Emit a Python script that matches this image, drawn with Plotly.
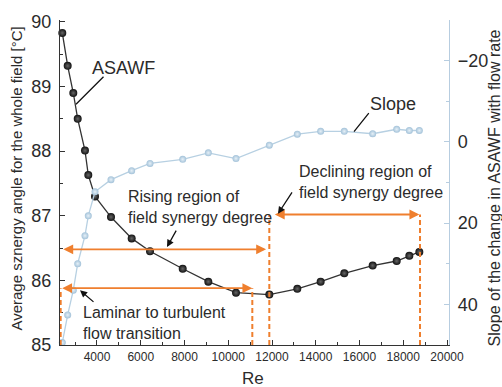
import plotly.graph_objects as go

# ---------------- data ----------------
re_vals = [2414, 2660, 2917, 3118, 3451, 3602, 3909, 4640, 5585, 6423, 7918,
           9089, 10354, 11877, 13157, 14224, 15305, 16602, 17700, 18278, 18735]
asawf = [89.83, 89.32, 88.90, 88.50, 88.01, 87.63, 87.30, 86.98, 86.65, 86.45, 86.18,
         85.98, 85.81, 85.78, 85.87, 85.98, 86.11, 86.23, 86.30, 86.38, 86.44]
slope = [49.4, 42.6, 36.5, 30.0, 23.1, 18.2, 12.3, 9.3, 7.1, 5.3, 4.3,
         2.7, 4.1, 0.8, -1.9, -2.6, -2.6, -2.0, -3.1, -2.8, -2.8]

x_ticks = [4000, 6000, 8000, 10000, 12000, 14000, 16000, 18000, 20000]
x_ticktext = [str(v) for v in x_ticks]
y_ticks = [85, 86, 87, 88, 89, 90]
y2_ticks = [-20, 0, 20, 40]
y2_ticktext = ["\u221220", "0", "20", "40"]

# region markers (Re, ASAWF-scale level)
lam_start, lam_end, lam_level = 2340, 11100, 85.88
rise_start, rise_end, rise_level = 2390, 11730, 86.48
dec_start, dec_end, dec_level = 12060, 18735, 87.02
dash_lines = [(2340, lam_level), (11100, lam_level), (11877, dec_level), (18766, dec_level)]

ORANGE = "#ef7f2e"
DARK = "#2b2b2b"
FONT = "Liberation Sans, Arial, sans-serif"

W, H = 502, 387
L, R, T, B = 60, 53, 13, 42
PW, PH = W - L - R, H - T - B


def px(x):
    return (x - L) / PW


def py(y):
    return (H - B - y) / PH


fig = go.Figure()

fig.add_trace(go.Scatter(
    x=re_vals, y=slope, yaxis="y2", mode="lines+markers", cliponaxis=False,
    line=dict(color="#b7d0e2", width=1.3),
    marker=dict(size=7, color="#a3c2d9",
                gradient=dict(type="radial", color="#e6f0f7"),
                line=dict(width=0)),
    showlegend=False))

fig.add_trace(go.Scatter(
    x=re_vals, y=asawf, mode="lines+markers", cliponaxis=False,
    line=dict(color="#333333", width=1.3),
    marker=dict(size=8, color="#111111",
                gradient=dict(type="radial", color="#666666"),
                line=dict(width=0)),
    showlegend=False))

shapes = []
for xv, top in dash_lines:
    shapes.append(dict(type="line", xref="x", yref="y", x0=xv, x1=xv, y0=85, y1=top,
                       line=dict(color=ORANGE, width=2, dash="5px,3px")))

annotations = []
# orange double arrows
for a, b, lvl in [(lam_start, lam_end, lam_level), (rise_start, rise_end, rise_level),
                  (dec_start, dec_end, dec_level)]:
    annotations.append(dict(x=b, y=lvl, ax=a, ay=lvl, xref="x", yref="y", axref="x", ayref="y",
                            text="", showarrow=True, arrowhead=2, arrowside="end+start",
                            arrowsize=1.1, arrowwidth=1.8, arrowcolor=ORANGE, standoff=0,
                            startstandoff=0))


# labels
def label(text, x, y, size=16, xanchor="left"):
    annotations.append(dict(x=px(x), y=py(y), xref="paper", yref="paper", text=text,
                            showarrow=False, xanchor=xanchor, yanchor="middle", align="left",
                            font=dict(family=FONT, size=size, color=DARK)))


label("ASAWF", 123, 62, size=18, xanchor="center")
label("Slope", 393, 99, size=18, xanchor="center")
label("Rising region of<br>field synergy degree", 126, 204)
label("Declining region of<br>field synergy degree", 297, 178)
label("Laminar to turbulent<br>flow transition", 81, 323)


# black pointers
def pointer(hx, hy, tx, ty, head=True):
    annotations.append(dict(x=px(hx), y=py(hy), xref="paper", yref="paper",
                            ax=tx - hx, ay=ty - hy, text="", showarrow=True,
                            arrowhead=2 if head else 0, arrowsize=1.1, arrowwidth=1.3,
                            arrowcolor="#111111", standoff=0))


pointer(76, 99, 105, 70, head=False)
pointer(354, 127, 370, 107, head=False)
pointer(167, 245, 177, 227)
pointer(278, 211, 293, 188)
pointer(80, 289, 95, 302)

# axis titles
annotations.append(dict(x=px(17), y=py(175), xref="paper", yref="paper",
                        text="Average sznergy angle for the whole field [°C]", textangle=-90,
                        showarrow=False, xanchor="center", yanchor="middle",
                        font=dict(family=FONT, size=15, color=DARK)))
annotations.append(dict(x=px(494), y=py(184), xref="paper", yref="paper",
                        text="Slope of the change in ASAWF with flow rate", textangle=-90,
                        showarrow=False, xanchor="center", yanchor="middle",
                        font=dict(family=FONT, size=16, color=DARK)))
annotations.append(dict(x=px(253), y=py(379), xref="paper", yref="paper", text="Re",
                        showarrow=False, xanchor="center", yanchor="middle",
                        font=dict(family=FONT, size=17, color=DARK)))

fig.update_layout(
    width=W, height=H, margin=dict(l=L, r=R, t=T, b=B, pad=0),
    paper_bgcolor="white", plot_bgcolor="white",
    font=dict(family=FONT, color=DARK),
    shapes=shapes, annotations=annotations,
    xaxis=dict(range=[2309, 20091], tickvals=x_ticks, ticktext=x_ticktext, ticks="inside",
               ticklen=5, tickcolor="#333", showline=True, linecolor="#333", linewidth=1.3,
               showgrid=False, zeroline=False, tickfont=dict(size=12, color=DARK),
               minor=dict(dtick=1000, tick0=0, ticks="inside", ticklen=3, tickcolor="#333")),
    yaxis=dict(range=[85, 90.03], tickvals=y_ticks, ticks="inside", ticklen=5,
               tickcolor="#333", showline=True, linecolor="#333", linewidth=1.3,
               showgrid=False, zeroline=False, tickfont=dict(size=18, color=DARK),
               ticklabelstandoff=4,
               minor=dict(dtick=0.5, tick0=85, ticks="inside", ticklen=3, tickcolor="#333")),
    yaxis2=dict(range=[50, -30], overlaying="y", side="right", anchor="x",
                tickvals=y2_ticks, ticktext=y2_ticktext, ticks="inside", ticklen=5,
                tickcolor="#b7cde0", showline=True, linecolor="#b7cde0", linewidth=1.3,
                showgrid=False, zeroline=False, tickfont=dict(size=18, color=DARK),
                ticklabelstandoff=4,
                minor=dict(dtick=10, tick0=0, ticks="inside", ticklen=3, tickcolor="#b7cde0")),
)

fig.write_html("out.html")
